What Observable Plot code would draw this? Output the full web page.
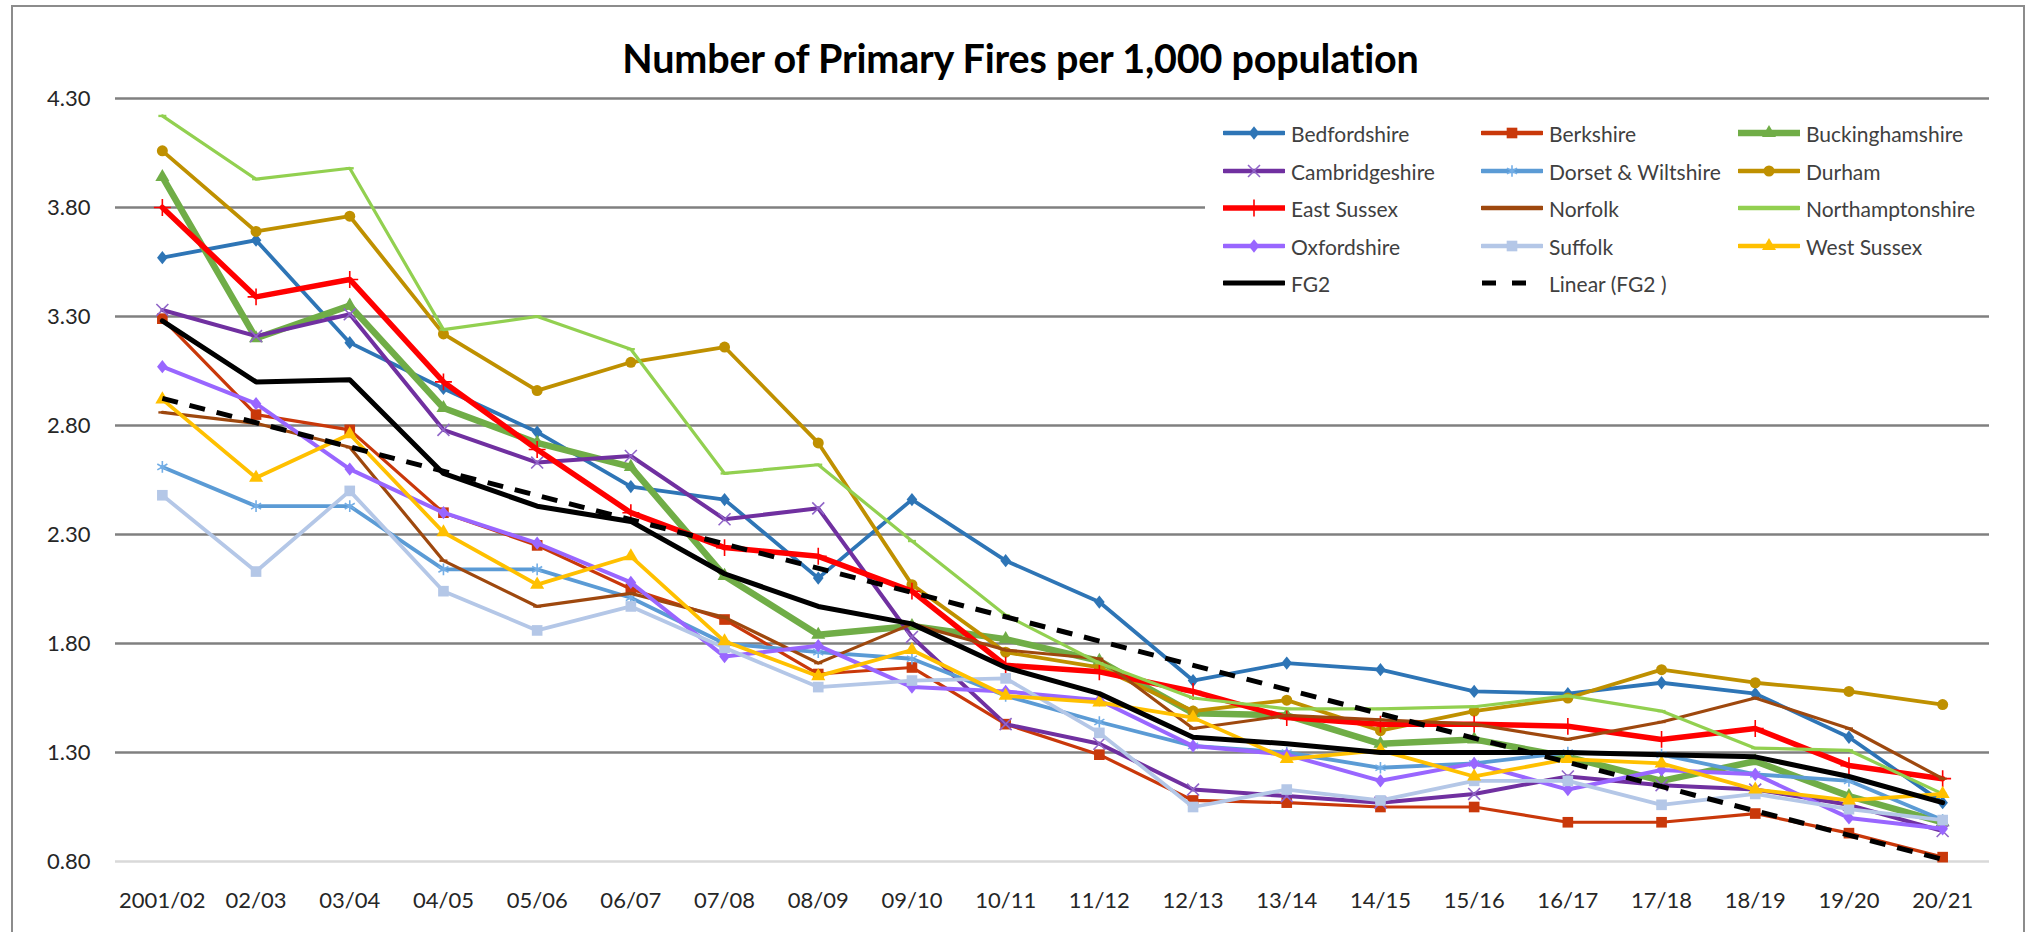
<!DOCTYPE html>
<html>
<head>
<meta charset="utf-8">
<script src="https://cdn.jsdelivr.net/npm/d3@7"></script>
<script src="https://cdn.jsdelivr.net/npm/@observablehq/plot@0.6"></script>
<style>
  html, body { margin: 0; padding: 0; background: #fff; }
  body { width: 2037px; height: 932px; overflow: hidden; font-family: Lato, "Open Sans", sans-serif; }
  #chart { position: relative; width: 2037px; height: 932px; }
  #frame { position: absolute; left: 11px; top: 5px; width: 2014px; height: 960px; border: 2px solid #8c8c8c; box-sizing: border-box; }
  #title { position: relative; height: 90px; box-sizing: border-box; padding-top: 36px; line-height: 44px; text-align: center; font-weight: bold; font-size: 39.5px; color: #000; padding-left: 4px; letter-spacing: -0.2px; }
  #plot { position: relative; }
  #legend { position: absolute; left: 1205px; top: 112px; width: 784px; height: 190px; background: #fff; }
  .item { position: absolute; height: 28px; display: flex; align-items: center; font-size: 21px; color: #404040; white-space: nowrap; }
  .item svg { margin-right: 6px; }
</style>
</head>
<body>
<div id="chart">
  <div id="frame"></div>
  <div id="title">Number of Primary Fires per 1,000 population</div>
  <div id="plot"></div>
  <div id="legend"></div>
</div>
<script>
// ---- data ----
const labels = ["2001/02","02/03","03/04","04/05","05/06","06/07","07/08","08/09","09/10","10/11",
                "11/12","12/13","13/14","14/15","15/16","16/17","17/18","18/19","19/20","20/21"];
const yTicks = [0.80, 1.30, 1.80, 2.30, 2.80, 3.30, 3.80, 4.30];

const bedfordshire     = [3.57, 3.65, 3.18, 2.97, 2.77, 2.52, 2.46, 2.10, 2.46, 2.18, 1.99, 1.63, 1.71, 1.68, 1.58, 1.57, 1.62, 1.57, 1.37, 1.07];
const berkshire        = [3.29, 2.85, 2.78, 2.40, 2.25, 2.05, 1.91, 1.66, 1.69, 1.43, 1.29, 1.08, 1.07, 1.05, 1.05, 0.98, 0.98, 1.02, 0.93, 0.82];
const buckinghamshire  = [3.94, 3.20, 3.35, 2.88, 2.72, 2.61, 2.11, 1.84, 1.88, 1.82, 1.72, 1.48, 1.47, 1.34, 1.36, 1.28, 1.17, 1.26, 1.10, 0.98];
const cambridgeshire   = [3.33, 3.21, 3.31, 2.78, 2.63, 2.66, 2.37, 2.42, 1.83, 1.43, 1.34, 1.13, 1.10, 1.07, 1.11, 1.19, 1.15, 1.13, 1.06, 0.94];
const dorsetWiltshire  = [2.61, 2.43, 2.43, 2.14, 2.14, 2.01, 1.80, 1.76, 1.73, 1.56, 1.44, 1.33, 1.30, 1.23, 1.25, 1.30, 1.29, 1.20, 1.17, 0.99];
const durham           = [4.06, 3.69, 3.76, 3.22, 2.96, 3.09, 3.16, 2.72, 2.07, 1.76, 1.69, 1.49, 1.54, 1.40, 1.49, 1.55, 1.68, 1.62, 1.58, 1.52];
const eastSussex       = [3.80, 3.39, 3.47, 3.00, 2.69, 2.40, 2.24, 2.20, 2.04, 1.70, 1.67, 1.58, 1.46, 1.43, 1.43, 1.42, 1.36, 1.41, 1.24, 1.18];
const norfolk          = [2.86, 2.81, 2.70, 2.18, 1.97, 2.03, 1.92, 1.71, 1.89, 1.77, 1.73, 1.41, 1.47, 1.45, 1.43, 1.36, 1.44, 1.55, 1.41, 1.18];
const northamptonshire = [4.22, 3.93, 3.98, 3.24, 3.30, 3.15, 2.58, 2.62, 2.27, 1.93, 1.71, 1.55, 1.50, 1.50, 1.51, 1.56, 1.49, 1.32, 1.31, 1.11];
const oxfordshire      = [3.07, 2.90, 2.60, 2.40, 2.26, 2.08, 1.74, 1.79, 1.60, 1.58, 1.54, 1.33, 1.29, 1.17, 1.25, 1.13, 1.22, 1.20, 1.00, 0.95];
const suffolk          = [2.48, 2.13, 2.50, 2.04, 1.86, 1.97, 1.78, 1.60, 1.63, 1.64, 1.39, 1.05, 1.13, 1.08, 1.17, 1.17, 1.06, 1.11, 1.04, 0.99];
const westSussex       = [2.92, 2.56, 2.76, 2.31, 2.07, 2.20, 1.81, 1.65, 1.77, 1.56, 1.53, 1.46, 1.27, 1.31, 1.19, 1.27, 1.25, 1.13, 1.08, 1.11];
const fg2              = [3.28, 3.00, 3.01, 2.58, 2.43, 2.36, 2.12, 1.97, 1.89, 1.69, 1.57, 1.37, 1.34, 1.30, 1.30, 1.30, 1.29, 1.28, 1.19, 1.07];

const seriesNames = ["Bedfordshire","Berkshire","Buckinghamshire","Cambridgeshire","Dorset & Wiltshire","Durham",
                     "East Sussex","Norfolk","Northamptonshire","Oxfordshire","Suffolk","West Sussex","FG2"];
const seriesValues = [bedfordshire, berkshire, buckinghamshire, cambridgeshire, dorsetWiltshire, durham,
                      eastSussex, norfolk, northamptonshire, oxfordshire, suffolk, westSussex, fg2];
const trendName = "Linear (FG2 )";

// ---- styles (separate from data) ----
const dashSymbol = { draw(ctx, size) { const s = Math.sqrt(size); ctx.rect(-s * 0.75, -s * 0.22, s * 1.5, s * 0.44); } };
const diamondSymbol = { draw(ctx, size) { const s = Math.sqrt(size); const h = s * 0.75, w = s * 0.6;
  ctx.moveTo(0, -h); ctx.lineTo(w, 0); ctx.lineTo(0, h); ctx.lineTo(-w, 0); ctx.closePath(); } };
const styles = {
  "Bedfordshire":       {color: "#2E75B6", w: 3.8, symbol: diamondSymbol, r: 5,   fill: true},
  "Berkshire":          {color: "#C9380A", w: 3.2, symbol: "square",      r: 6,   fill: true},
  "Buckinghamshire":    {color: "#70AD47", w: 6.5, symbol: "triangle",    r: 5.2, fill: true},
  "Cambridgeshire":     {color: "#7030A0", w: 4,   symbol: "times",       r: 5.5, fill: false, mcolor: "#9065C8"},
  "Dorset & Wiltshire": {color: "#5B9BD5", w: 3.8, symbol: "asterisk",    r: 5.5, fill: false, mcolor: "#73AEE6"},
  "Durham":             {color: "#BF9000", w: 3.8, symbol: "circle",      r: 5.5, fill: true},
  "East Sussex":        {color: "#FF0000", w: 5.5, symbol: "plus",        r: 5.5, fill: false, mcolor: "#FF0000"},
  "Norfolk":            {color: "#9E480E", w: 3.2, symbol: dashSymbol,    r: 3,   fill: true},
  "Northamptonshire":   {color: "#92D050", w: 3.2, symbol: dashSymbol,    r: 3,   fill: true},
  "Oxfordshire":        {color: "#9966FF", w: 4,   symbol: diamondSymbol, r: 5,   fill: true},
  "Suffolk":            {color: "#B4C7E7", w: 3.8, symbol: "square",      r: 6,   fill: true},
  "West Sussex":        {color: "#FFC000", w: 3.8, symbol: "triangle",    r: 5.2, fill: true},
  "FG2":                {color: "#000000", w: 5,   symbol: null}
};

const table = seriesNames.map((name, k) => ({name, rows: seriesValues[k].map((v, i) => ({i, v}))}));

const marks = [
  Plot.gridY(yTicks.slice(1), {stroke: "#808080", strokeOpacity: 1, strokeWidth: 2.5}),
  Plot.ruleY(yTicks.slice(0, 1), {stroke: "#d9d9d9", strokeWidth: 2.5}),
  Plot.axisY({ticks: yTicks, tickSize: 0, tickPadding: 25, tickFormat: d3.format(".2f"), fontSize: 22, label: null}),
  Plot.axisX({ticks: labels.map((_, i) => i), tickSize: 0, tickPadding: 31, tickFormat: i => labels[i], fontSize: 22, label: null})
];
for (const s of table) {
  const st = styles[s.name];
  marks.push(Plot.line(s.rows, {x: "i", y: "v", stroke: st.color, strokeWidth: st.w}));
  if (st.symbol) {
    marks.push(Plot.dot(s.rows, st.fill
      ? {x: "i", y: "v", symbol: st.symbol, r: st.r, fill: st.color, stroke: "none"}
      : {x: "i", y: "v", symbol: st.symbol, r: st.r, fill: "none", stroke: st.mcolor, strokeWidth: 1.6}));
  }
}
marks.push(Plot.linearRegressionY(table[table.length - 1].rows, {
  x: "i", y: "v", ci: 0, stroke: "#000", strokeWidth: 5, strokeDasharray: "16,12", strokeLinecap: "butt"
}));

const chart = Plot.plot({
  width: 2037,
  height: 842,
  marginTop: 8,
  marginBottom: 71,
  marginLeft: 115,
  marginRight: 48,
  style: {fontFamily: "Lato, 'Open Sans', sans-serif", fontSize: "22px", color: "#262626", background: "transparent", overflow: "visible"},
  x: {type: "linear", domain: [-0.5, labels.length - 0.5]},
  y: {domain: [yTicks[0], yTicks[yTicks.length - 1]]},
  marks
});
document.getElementById("plot").appendChild(chart);

// ---- legend (HTML) ----
const legend = document.getElementById("legend");
const legendEntries = [...seriesNames, trendName];
const symbolTypes = {square: d3.symbolSquare, triangle: d3.symbolTriangle, times: d3.symbolTimes,
                     asterisk: d3.symbolAsterisk, circle: d3.symbolCircle, plus: d3.symbolPlus};
const colLeft = [18, 276, 533];
const rowTop = [7, 45, 82, 120, 157];
legendEntries.forEach((name, k) => {
  const item = document.createElement("div");
  item.className = "item";
  item.style.left = colLeft[k % 3] + "px";
  item.style.top = rowTop[Math.floor(k / 3)] + "px";
  const svg = d3.create("svg").attr("width", 62).attr("height", 20);
  if (name === trendName) {
    svg.append("line").attr("x1", 1).attr("x2", 61).attr("y1", 10).attr("y2", 10)
      .attr("stroke", "#000").attr("stroke-width", 5).attr("stroke-dasharray", "14,16");
  } else {
    const st = styles[name];
    svg.append("line").attr("x1", 1).attr("x2", 61).attr("y1", 10).attr("y2", 10)
      .attr("stroke", st.color).attr("stroke-width", Math.max(4.5, st.w)).attr("stroke-linecap", "round");
    if (st.symbol) {
      const type = typeof st.symbol === "string" ? symbolTypes[st.symbol] : st.symbol;
      const path = d3.symbol(type, Math.PI * st.r * st.r)();
      const p = svg.append("path").attr("d", path).attr("transform", "translate(31,10)");
      if (st.fill) p.attr("fill", st.color); else p.attr("fill", "none").attr("stroke", st.mcolor).attr("stroke-width", 1.6);
    }
  }
  item.appendChild(svg.node());
  const span = document.createElement("span");
  span.textContent = name;
  item.appendChild(span);
  legend.appendChild(item);
});
</script>
</body>
</html>
